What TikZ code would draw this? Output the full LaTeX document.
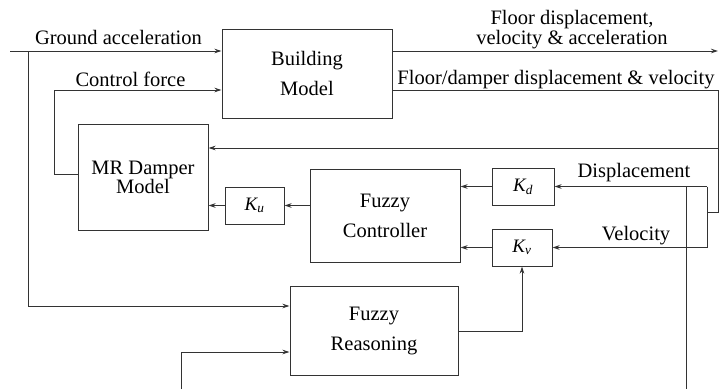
\documentclass[tikz,border=0pt]{standalone}
\usepackage{fontspec}
\newfontfamily\tms{Liberation Serif}
\usetikzlibrary{arrows.meta}
\begin{document}
\begin{tikzpicture}[x=1pt,y=-1pt,
  ln/.style={draw=black!80, line width=0.9pt},
  arr/.style={ln, -{Stealth[length=7pt,width=4.5pt]}},
  blk/.style={draw=black!80, line width=1pt, align=center, inner sep=0pt, font=\tms\fontsize{20.5}{30}\selectfont},
  lbl/.style={inner sep=0pt, font=\tms\fontsize{20.5}{24}\selectfont},
  gain/.style={draw=black!80, line width=1pt, inner sep=0pt, minimum height=37pt, font=\tms\fontsize{19}{20}\selectfont\itshape}]
\useasboundingbox (0,0) rectangle (719,389);
% blocks
\node[blk, minimum width=170pt, minimum height=89pt] (bm) at (307,73.5) {Building\\Model};
\node[blk, minimum width=130pt, minimum height=106pt, font=\tms\fontsize{20.5}{19}\selectfont] (mr) at (143,177) {MR Damper\\Model};
\node[gain, minimum width=59pt] (ku) at (254.5,205.5) {K\textsubscript{u}};
\node[blk, minimum width=150pt, minimum height=93pt] (fc) at (385,215.5) {Fuzzy\\Controller};
\node[gain, minimum width=62pt] (kd) at (523,186.5) {K\textsubscript{d}};
\node[gain, minimum width=60pt] (kv) at (522,247.5) {K\textsubscript{v}};
\node[blk, minimum width=168pt, minimum height=89pt] (fr) at (374,330.5) {Fuzzy\\Reasoning};
% helper coordinates
\coordinate (gin) at (10,51);
\coordinate (gbr) at (28,51);
\coordinate (fout) at (718,51);
\coordinate (yfd) at (0,90);
\coordinate (rc) at (718,90);
\coordinate (rb) at (718,212);
\coordinate (yfb) at (718,148);
\coordinate (ycf) at (54,174);
\coordinate (vr) at (707,212);
\coordinate (vd) at (686,389);
\coordinate (yfr) at (0,306);
\coordinate (yfo) at (0,331);
\coordinate (bin) at (181,389);
\coordinate (yfi) at (0,352);
% connectors
\draw[arr] (gin) -- (gin -| bm.west);
\draw[arr] (gbr) |- (fr.west |- yfr);
\draw[arr] (bm.east |- gin) -- (fout);
\draw[ln] (bm.east |- yfd) -- (rc) -- (rb) -- (vr);
\draw[arr] (yfb) -- (yfb -| mr.east);
\draw[arr] (mr.west |- ycf) -- (ycf) |- (bm.west |- yfd);
\draw[arr] (ku.east -| fc.west) -- (ku.east);
\draw[arr] (ku.west) -- (ku.west -| mr.east);
\draw[arr] (kd.west) -- (kd.west -| fc.east);
\draw[arr] (kv.west) -- (kv.west -| fc.east);
\draw[arr] (vr |- kd.east) -- (kd.east);
\draw[arr] (vr |- kv.east) -- (kv.east);
\draw[ln] (vr |- kd.east) -- (vr |- kv.east);
\draw[ln] (vd |- kd.east) -- (vd);
\draw[arr] (fr.east |- yfo) -| (kv.south);
\draw[arr] (bin) |- (fr.west |- yfi);
% labels
\node[lbl, anchor=base] (lga) at (118.5,44) {Ground acceleration};
\node[lbl, anchor=base] (lcf) at (130.5,86) {Control force};
\node[lbl, align=center, font=\tms\fontsize{20.5}{20}\selectfont] (lfo) at (572,29.3) {Floor displacement,\\velocity \& acceleration};
\node[lbl, anchor=base] (lfd) at (556,84) {Floor/damper displacement \& velocity};
\node[lbl, anchor=base] (ldp) at (634,177) {Displacement};
\node[lbl, anchor=base] (lve) at (636,240) {Velocity};
\end{tikzpicture}
\end{document}
